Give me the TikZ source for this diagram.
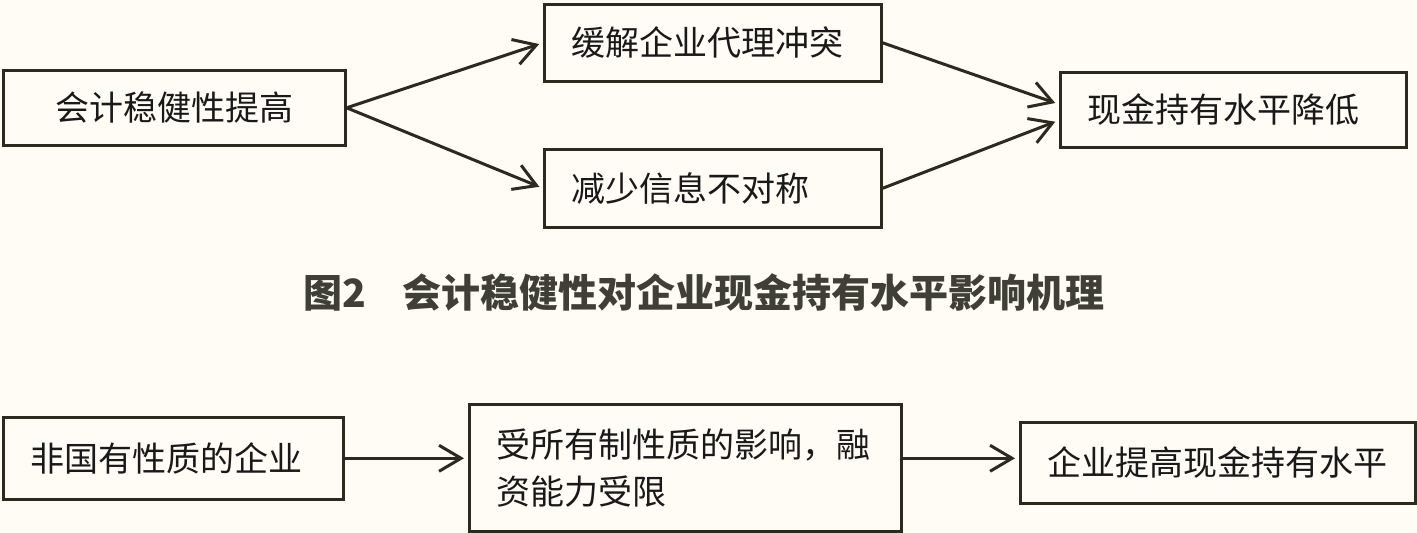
\documentclass[tikz,border=0pt]{standalone}
\usepackage{fontspec}
\setmainfont{Noto Sans CJK SC}
\usetikzlibrary{arrows.meta}
\definecolor{ink}{HTML}{2A2A1E}
\definecolor{paper}{HTML}{FEFCF5}

\begin{document}
\begin{tikzpicture}[x=0.5pt,y=-0.5pt,
  box/.style={draw=ink,line width=1.3pt,anchor=north west,inner xsep=13.5pt,inner ysep=0pt,
    align=left,text=black!90,font=\fontsize{17pt}{23.5pt}\selectfont},
  arr/.style={draw=ink,line width=1.5pt,shorten >=2pt,-{Straight Barb[length=11pt,width=13pt]}}]

\fill[paper] (0,0) rectangle (1417,533);
\useasboundingbox (0,0) rectangle (1417,533);

% figure 2
\node[box,text width=144pt,minimum height=37.5pt,align=center] (acc) at (2,69) {会计稳健性提高};
\node[box,text width=141.5pt,minimum height=38.5pt] (agency) at (543,3) {缓解企业代理冲突};
\node[box,text width=141.5pt,minimum height=39pt] (info) at (543,148) {减少信息不对称};
\node[box,text width=146pt,minimum height=37.5pt] (cash) at (1059,71) {现金持有水平降低};
\coordinate (cashin1) at ([yshift=2.75pt]cash.west);
\coordinate (cashin2) at ([yshift=-5.25pt]cash.west);

\draw[arr] (acc.east) -- (agency.west);
\draw[arr] (acc.east) -- (info.west);
\draw[arr] (agency.east) -- (cashin1);
\draw[arr] (info.east) -- (cashin2);

\node[text=ink!90,font=\fontsize{19.5pt}{24pt}\selectfont\bfseries] (cap) at (704,293) {图2\hspace{18pt}会计稳健性对企业现金持有水平影响机理};

% ownership
\node[box,text width=143pt,minimum height=41pt] (nonsoe) at (2,416) {非国有性质的企业};
\node[box,text width=189pt,minimum height=63.5pt] (fin) at (468,403) {受所有制性质的影响，融\\资能力受限};
\node[box,text width=170.5pt,minimum height=40.5pt] (raise) at (1019,421) {企业提高现金持有水平};

\draw[arr] (nonsoe.east) -- (nonsoe.east -| fin.west);
\draw[arr] (fin.east |- nonsoe.east) -- (nonsoe.east -| raise.west);

\end{tikzpicture}
\end{document}
